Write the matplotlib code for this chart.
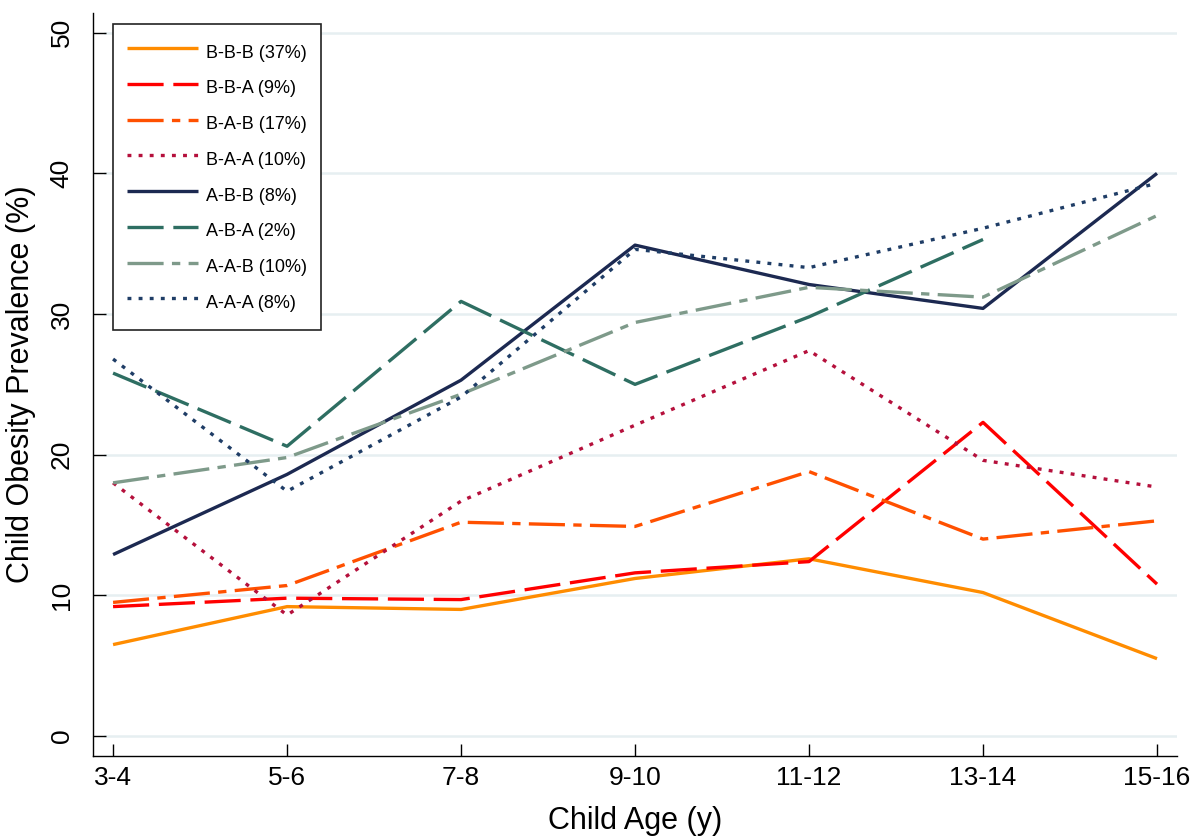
import numpy as np
import matplotlib
matplotlib.use('Agg')
import matplotlib.pyplot as plt

plt.rcParams['font.family'] = ['Liberation Sans', 'DejaVu Sans']
plt.rcParams['lines.scale_dashes'] = False

# age groups on the x axis
ages = ['3-4', '5-6', '7-8', '9-10', '11-12', '13-14', '15-16']

# prevalence (%) for each trajectory group
bbb = [6.5, 9.2, 9.0, 11.2, 12.6, 10.2, 5.5]
bba = [9.2, 9.8, 9.7, 11.6, 12.4, 22.3, 10.8]
bab = [9.5, 10.7, 15.2, 14.9, 18.8, 14.0, 15.3]
baa = [18.0, 8.6, 16.7, 22.1, 27.4, 19.6, 17.7]
abb = [12.9, 18.6, 25.3, 34.9, 32.1, 30.4, 40.0]
aba = [25.8, 20.6, 30.9, 25.0, 29.8, 35.3, np.nan]
aab = [18.0, 19.8, 24.3, 29.4, 31.9, 31.2, 37.0]
aaa = [26.8, 17.4, 24.1, 34.6, 33.3, 36.1, 39.3]

labels = ['B-B-B (37%)', 'B-B-A (9%)', 'B-A-B (17%)', 'B-A-A (10%)',
          'A-B-B (8%)', 'A-B-A (2%)', 'A-A-B (10%)', 'A-A-A (8%)']
series = [bbb, bba, bab, baa, abb, aba, aab, aaa]
colors = ['#FF8C00', '#FF0000', '#FF5000', '#B5103C',
          '#1C2951', '#2E6E62', '#7E9A8A', '#1F3D66']

# dash patterns in points
solid = (0, ())
dashed = (0, (26, 7))
dashdot = (0, (26, 6, 6, 6))
dotted = (0, (2.8, 5.2))
styles = [solid, dashed, dashdot, dotted, solid, dashed, dashdot, dotted]

fig = plt.figure(figsize=(11.93, 8.4), dpi=100)
ax = fig.add_axes([0.078, 0.1, 0.9086, 0.8845])

x = np.arange(len(ages))
for y, lab, c, ls in zip(series, labels, colors, styles):
    ax.plot(x, y, color=c, linestyle=ls, linewidth=2.4, label=lab)

ax.set_xlim(-0.115, 6.115)
ax.set_ylim(-1.42, 51.4)
ax.set_xticks(x)
ax.set_xticklabels(ages)
ax.set_yticks([0, 10, 20, 30, 40, 50])
for t in [0, 10, 20, 30, 40, 50]:
    ax.axhline(t, xmin=0.011, xmax=1, color='#E6EFF1', linewidth=1.8, zorder=0)

ax.tick_params(axis='both', direction='in', length=9, width=1, labelsize=19)
ax.tick_params(axis='y', pad=14, labelrotation=90)
ax.tick_params(axis='x', pad=7)
for lbl in ax.get_yticklabels():
    lbl.set_va('center')

for s in ['top', 'right']:
    ax.spines[s].set_visible(False)
for s in ['left', 'bottom']:
    ax.spines[s].set_linewidth(1)

ax.set_xlabel('Child Age (y)', fontsize=22, labelpad=12)
ax.set_ylabel('Child Obesity Prevalence (%)', fontsize=22, labelpad=10)

leg = ax.legend(loc='upper left', bbox_to_anchor=(0.0947, 0.9714),
                bbox_transform=fig.transFigure, borderaxespad=0,
                fontsize=13, handlelength=3.9, handletextpad=0.45,
                handleheight=1.9, labelspacing=0.5, borderpad=0.8,
                fancybox=False, framealpha=1, edgecolor='#222222')
leg.get_frame().set_linewidth(1.2)

plt.savefig('out.png', dpi=100)
